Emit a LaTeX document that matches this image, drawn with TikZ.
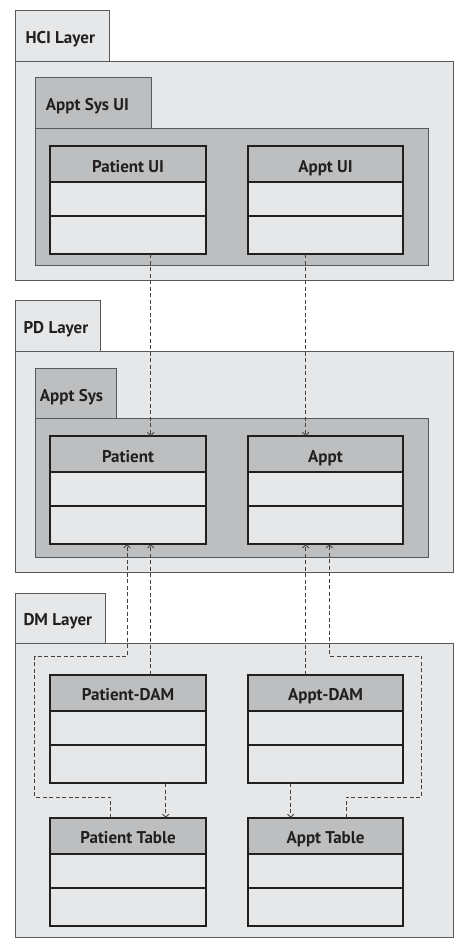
\documentclass[tikz,border=0pt]{standalone}
\usepackage{fontspec}
\setmainfont{PT Sans}
\usetikzlibrary{arrows.meta,calc}
\definecolor{lightg}{HTML}{E6E7E8}
\definecolor{darkg}{HTML}{BCBEC0}
\definecolor{edgeg}{HTML}{58595B}
\definecolor{ink}{HTML}{231F20}
\begin{document}
\begin{tikzpicture}[x=1pt,y=-1pt,
  box/.style={rectangle,inner sep=0pt,anchor=north west,draw=edgeg,line width=0.9pt},
  lay/.style={box,fill=lightg},
  pkg/.style={box,fill=darkg},
  lbl/.style={anchor=west,inner sep=0pt,text height=12pt,text depth=0pt,font=\bfseries\fontsize{17}{19}\selectfont,text=ink},
  hdr/.style={rectangle,inner sep=0pt,anchor=north,fill=darkg,draw=ink,line width=1.3pt,minimum width=154.6pt,minimum height=35pt,text height=16pt,text depth=0pt,font=\bfseries\fontsize{17}{19}\selectfont,text=ink},
  cmpa/.style={rectangle,inner sep=0pt,anchor=north,fill=lightg,draw=ink,line width=1.1pt,minimum width=154.6pt,minimum height=32.5pt},
  cmpb/.style={cmpa,minimum height=37.3pt},
  frame/.style={draw=ink,line width=1.6pt},
  dep/.style={draw=ink!85,line width=0.8pt,dash pattern=on 4pt off 2.5pt,-{Straight Barb[length=3pt,width=6.5pt,line width=0.9pt]}}]
\useasboundingbox (0,0) rectangle (460,950);
\fill[white] (0,0) rectangle (460,950);

% ---------- HCI layer ----------
\node[lay,minimum width=93.7pt,minimum height=50.7pt] (hcitab) at (15.3,10.3) {};
\node[lbl] (hcilbl) at ($(hcitab.west)+(10,1.5)$) {HCI Layer};
\node[lay,minimum width=437.4pt,minimum height=219pt] (hcibody) at (15.3,61) {};
\node[pkg,minimum width=116.3pt,minimum height=50.4pt] (uitab) at (34.7,77.3) {};
\node[lbl] (uilbl) at ($(uitab.west)+(11,2)$) {Appt Sys UI};
\node[pkg,minimum width=393pt,minimum height=137.6pt] (uibody) at (34.7,127.7) {};

\node[hdr] (pui) at (128,146) {Patient UI};
\node[cmpa] (pui1) at (pui.south) {};
\node[cmpb] (pui2) at (pui1.south) {};
\draw[frame] (pui.north west) rectangle (pui2.south east);
\node[hdr] (aui) at (325.5,146) {Appt UI};
\node[cmpa] (aui1) at (aui.south) {};
\node[cmpb] (aui2) at (aui1.south) {};
\draw[frame] (aui.north west) rectangle (aui2.south east);

% ---------- PD layer ----------
\node[lay,minimum width=85pt,minimum height=50.7pt] (pdtab) at (15.3,300.3) {};
\node[lbl] (pdlbl) at ($(pdtab.west)+(8,1.5)$) {PD Layer};
\node[lay,minimum width=437.4pt,minimum height=221.3pt] (pdbody) at (15.3,351) {};
\node[pkg,minimum width=81pt,minimum height=50.3pt] (astab) at (34.7,367.7) {};
\node[lbl] (aslbl) at ($(astab.west)+(5,2)$) {Appt Sys};
\node[pkg,minimum width=393pt,minimum height=139.3pt] (asbody) at (34.7,418) {};

\node[hdr] (pat) at (128,436) {Patient};
\node[cmpa] (pat1) at (pat.south) {};
\node[cmpb] (pat2) at (pat1.south) {};
\draw[frame] (pat.north west) rectangle (pat2.south east);
\node[hdr] (apt) at (325.5,436) {Appt};
\node[cmpa] (apt1) at (apt.south) {};
\node[cmpb] (apt2) at (apt1.south) {};
\draw[frame] (apt.north west) rectangle (apt2.south east);

% ---------- DM layer ----------
\node[lay,minimum width=89.4pt,minimum height=50pt] (dmtab) at (15.3,593) {};
\node[lbl] (dmlbl) at ($(dmtab.west)+(8,1.5)$) {DM Layer};
\node[lay,minimum width=437.4pt,minimum height=294.3pt] (dmbody) at (15.3,643) {};

\node[hdr] (pdam) at (128,674.7) {Patient-DAM};
\node[cmpa] (pdam1) at (pdam.south) {};
\node[cmpb] (pdam2) at (pdam1.south) {};
\draw[frame] (pdam.north west) rectangle (pdam2.south east);
\node[hdr] (adam) at (325.5,674.7) {Appt-DAM};
\node[cmpa] (adam1) at (adam.south) {};
\node[cmpb] (adam2) at (adam1.south) {};
\draw[frame] (adam.north west) rectangle (adam2.south east);

\node[hdr] (ptab) at (128,817.7) {Patient Table};
\node[cmpa] (ptab1) at (ptab.south) {};
\node[cmpb] (ptab2) at (ptab1.south) {};
\draw[frame] (ptab.north west) rectangle (ptab2.south east);
\node[hdr] (atab) at (325.5,817.7) {Appt Table};
\node[cmpa] (atab1) at (atab.south) {};
\node[cmpb] (atab2) at (atab1.south) {};
\draw[frame] (atab.north west) rectangle (atab2.south east);

% ---------- connectors ----------
\coordinate (xa) at (150.7,0);
\coordinate (xb) at (305.7,0);
\coordinate (xc) at (127,0);
\coordinate (xd) at (329.3,0);
\coordinate (xe) at (165.7,0);
\coordinate (xf) at (290.7,0);
\coordinate (xg) at (110.7,0);
\coordinate (xh) at (346,0);
\coordinate (pl1) at (34.7,797);
\coordinate (pl2) at (127,656);
\coordinate (ar1) at (421.7,797);
\coordinate (ar2) at (329.3,656);

\draw[dep] (pui2.south -| xa) -- (pat.north -| xa);
\draw[dep] (aui2.south -| xb) -- (apt.north -| xb);
\draw[dep] (pdam.north -| xa) -- (pat2.south -| xa);
\draw[dep] (adam.north -| xb) -- (apt2.south -| xb);
\draw[dep] (pdam2.south -| xe) -- (ptab.north -| xe);
\draw[dep] (adam2.south -| xf) -- (atab.north -| xf);
\draw[dep] (ptab.north -| xg) |- (pl1) |- (pl2) -- (pat2.south -| xc);
\draw[dep] (atab.north -| xh) |- (ar1) |- (ar2) -- (apt2.south -| xd);
\end{tikzpicture}
\end{document}
